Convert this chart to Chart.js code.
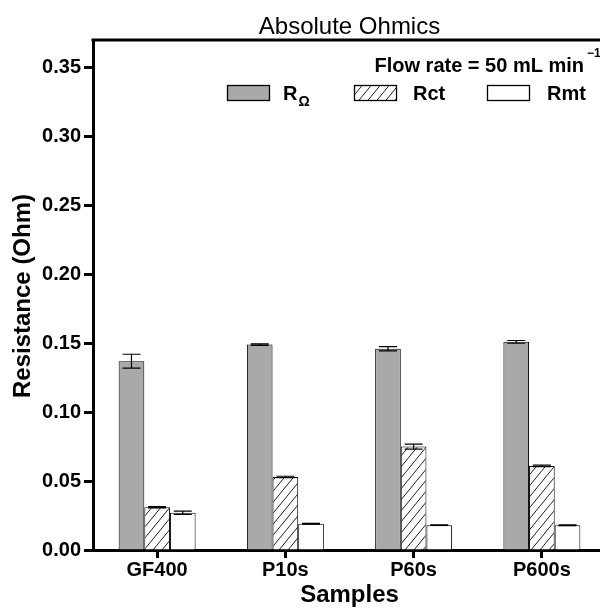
<!DOCTYPE html>
<html><head><meta charset="utf-8">
<script src="https://cdn.jsdelivr.net/npm/chart.js@4.4.0/dist/chart.umd.min.js"></script>
<style>html,body{margin:0;padding:0;overflow:hidden;background:#fff}canvas{display:block}</style>
</head><body>
<canvas id="c" width="610" height="608" style="width:610px;height:608px"></canvas>
<script>
const categories = ['GF400', 'P10s', 'P60s', 'P600s'];
const rOhmValues = [0.137, 0.149, 0.146, 0.151];
const rOhmErrors = [0.005, 0.0006, 0.0015, 0.001];
const rctValues = [0.031, 0.053, 0.075, 0.061];
const rctErrors = [0.0005, 0.0005, 0.0018, 0.0006];
const rmtValues = [0.027, 0.019, 0.018, 0.018];
const rmtErrors = [0.0012, 0.0003, 0.0002, 0.0003];
const yTicks = [0, 0.05, 0.10, 0.15, 0.20, 0.25, 0.30, 0.35];

const FONT = "'Liberation Sans', Arial, Helvetica, sans-serif";
Chart.defaults.font.family = FONT;
Chart.defaults.color = '#000';

const canvas = document.getElementById('c');
const ctx = canvas.getContext('2d');

function makeHatch(w, h) {
  const c = document.createElement('canvas');
  c.width = w; c.height = h;
  const g = c.getContext('2d');
  g.fillStyle = '#fff'; g.fillRect(0, 0, w, h);
  g.strokeStyle = '#222'; g.lineWidth = 1;
  g.beginPath();
  g.moveTo(0, h); g.lineTo(w, 0);
  g.moveTo(-w, h); g.lineTo(0, 0);
  g.moveTo(w, h); g.lineTo(2 * w, 0);
  g.stroke();
  return ctx.createPattern(c, 'repeat');
}
const hatch = makeHatch(9, 11);
const GREY = '#a9a9a9';

const errorBars = {
  id: 'errorBars',
  afterDatasetsDraw(chart) {
    const c = chart.ctx, ys = chart.scales.y;
    c.save();
    c.strokeStyle = '#000'; c.lineWidth = 1.2;
    chart.data.datasets.forEach((ds, i) => {
      const meta = chart.getDatasetMeta(i);
      meta.data.forEach((el, j) => {
        const v = ds.data[j], e = ds.errors[j];
        const yt = ys.getPixelForValue(v + e), yb = ys.getPixelForValue(v - e);
        const x = el.x, hw = 9;
        c.beginPath();
        c.moveTo(x, yt); c.lineTo(x, yb);
        c.moveTo(x - hw, yt); c.lineTo(x + hw, yt);
        c.moveTo(x - hw, yb); c.lineTo(x + hw, yb);
        c.stroke();
      });
    });
    c.restore();
  }
};

const decorations = {
  id: 'decorations',
  afterDraw(chart) {
    const c = chart.ctx, a = chart.chartArea;
    c.save();
    // top frame line
    c.strokeStyle = '#000'; c.lineWidth = 3;
    c.beginPath(); c.moveTo(a.left - 1.5, a.top); c.lineTo(a.right + 5, a.top); c.stroke();
    // title
    c.fillStyle = '#000';
    c.font = '24px ' + FONT; c.textAlign = 'center'; c.textBaseline = 'alphabetic';
    c.fillText('Absolute Ohmics', (a.left + a.right) / 2, 34);
    // y title
    c.save();
    c.translate(23, (a.top + a.bottom) / 2 + 1); c.rotate(-Math.PI / 2);
    c.font = 'bold 24px ' + FONT; c.textAlign = 'center'; c.textBaseline = 'middle';
    c.fillText('Resistance (Ohm)', 0, 0);
    c.restore();
    // flow rate annotation
    c.font = 'bold 20px ' + FONT; c.textAlign = 'right'; c.textBaseline = 'alphabetic';
    c.fillText('Flow rate = 50 mL min', 584, 72);
    c.font = 'bold 12px ' + FONT; c.textAlign = 'left';
    c.fillText('\u22121', 587, 57);
    // legend
    const items = [
      {x: 227, fill: GREY, label: 'R', sub: '\u03A9', tx: 283},
      {x: 354, fill: hatch, label: 'Rct', tx: 413},
      {x: 487, fill: '#fff', label: 'Rmt', tx: 547}
    ];
    items.forEach(it => {
      c.fillStyle = it.fill;
      c.fillRect(it.x, 85, 42, 15);
      c.strokeStyle = '#000'; c.lineWidth = 1.3;
      c.strokeRect(it.x + 0.5, 85.5, 42, 15);
      c.fillStyle = '#000';
      c.font = 'bold 20px ' + FONT; c.textAlign = 'left'; c.textBaseline = 'alphabetic';
      c.fillText(it.label, it.tx, 100);
      if (it.sub) {
        const w = c.measureText(it.label).width;
        c.font = 'bold 14px ' + FONT;
        c.fillText(it.sub, it.tx + w + 1, 106);
      }
    });
    c.restore();
  }
};

new Chart(ctx, {
  type: 'bar',
  data: {
    labels: categories,
    datasets: [
      {label: 'R\u03A9', data: rOhmValues, errors: rOhmErrors, backgroundColor: GREY, borderColor: '#000', borderWidth: 1, categoryPercentage: 0.6, barPercentage: 1.0},
      {label: 'Rct', data: rctValues, errors: rctErrors, backgroundColor: hatch, borderColor: '#000', borderWidth: 1, categoryPercentage: 0.6, barPercentage: 1.0},
      {label: 'Rmt', data: rmtValues, errors: rmtErrors, backgroundColor: '#fff', borderColor: '#000', borderWidth: 1, categoryPercentage: 0.6, barPercentage: 1.0}
    ]
  },
  options: {
    responsive: false,
    animation: false,
    devicePixelRatio: 1,
    layout: {padding: {top: 40, right: 4, left: 0, bottom: 0}},
    plugins: {legend: {display: false}, title: {display: false}, tooltip: {enabled: false}},
    scales: {
      x: {
        type: 'category', offset: true, z: 1,
        grid: {display: true, drawOnChartArea: false, drawTicks: true, tickLength: 8, tickWidth: 3, tickColor: '#000', offset: false},
        border: {display: true, color: '#000', width: 3},
        ticks: {color: '#000', font: {size: 20, weight: 'bold'}, padding: 0, maxRotation: 0, autoSkip: false},
        title: {display: true, text: 'Samples', color: '#000', font: {size: 24, weight: 'bold', lineHeight: 1}, padding: {top: 0, bottom: 1}},
        afterFit(s) { s.height = 58; }
      },
      y: {
        min: 0, max: 0.37, z: 1,
        grid: {display: true, drawOnChartArea: false, drawTicks: true, tickLength: 9, tickWidth: 3, tickColor: '#000'},
        border: {display: true, color: '#000', width: 3},
        ticks: {color: '#000', font: {size: 20, weight: 'bold'}, padding: 3, callback: v => Number(v).toFixed(2)},
        afterBuildTicks(s) { s.ticks = yTicks.map(v => ({value: v})); },
        afterFit(s) { s.width = 93; }
      }
    }
  },
  plugins: [errorBars, decorations]
});
</script>
</body></html>
